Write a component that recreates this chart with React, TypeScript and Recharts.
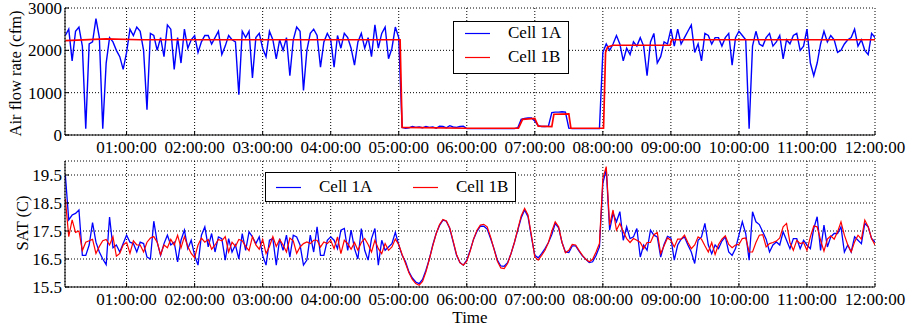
import { LineChart, Line, XAxis, YAxis, CartesianGrid, Legend } from "recharts";

const FONT = '"Liberation Serif", "Times New Roman", serif';

// sampling of the logged series: one reading every 3 minutes from 00:06
const START_HOUR = 0.1;
const STEP_HOURS = 0.05;
const X_DOMAIN: [number, number] = [0.095, 12];
const HOUR_TICKS = [1, 2, 3, 4, 5, 6, 7, 8, 9, 10, 11, 12];
const FLOW_TICKS = [0, 1000, 2000, 3000];
const SAT_TICKS = [15.5, 16.5, 17.5, 18.5, 19.5];

// Air flow rate (cfm), Cell 1A
const FLOW_1A = [
  2350, 2500, 1750, 2450, 2550, 2100, 150, 2150, 2200, 2750,
  2300, 150, 1700, 2300, 2200, 2000, 1850, 1550, 1950, 2500,
  2350, 2550, 2450, 2000, 600, 2400, 2350, 2000, 2300, 1850,
  2600, 2500, 1550, 2300, 1700, 2500, 2050, 2250, 2350, 1950,
  2200, 2350, 2350, 2150, 2300, 2450, 1900, 2100, 2350, 2250,
  2200, 950, 2450, 2300, 2450, 1350, 2300, 2400, 2050, 1850,
  2450, 2250, 1800, 2250, 2000, 2300, 1400, 2250, 2550, 2450,
  1050, 2000, 2400, 2500, 2350, 1600, 2200, 2400, 2250, 1600,
  2350, 2050, 2400, 2300, 2050, 1650, 2200, 2400, 2050, 2300,
  1850, 2600, 2050, 2400, 2550, 1800, 2050, 2550, 2300, 180,
  160, 170, 200, 180, 190, 170, 200, 180, 190, 160,
  210, 200, 170, 220, 190, 180, 200, 210, 150, 150,
  150, 150, 150, 150, 150, 150, 150, 150, 150, 150,
  150, 150, 150, 170, 370, 390, 400, 400, 330, 220,
  200, 200, 210, 530, 540, 540, 550, 540, 160, 150,
  150, 150, 150, 150, 150, 150, 150, 150, 1950, 2150,
  2000, 2150, 2350, 2150, 1750, 2050, 1900, 2200, 2100, 2300,
  2100, 1400, 2200, 2400, 1700, 1850, 2200, 2150, 2500, 2100,
  2500, 2150, 2300, 2450, 2600, 1950, 2150, 1750, 2400, 2350,
  2150, 2300, 2300, 2100, 2300, 2400, 1650, 2300, 2450, 2350,
  2250, 150, 2100, 2450, 2150, 2100, 2300, 2400, 2100, 2200,
  2350, 1800, 2250, 2150, 2350, 2400, 2000, 2100, 2500, 1700,
  1400, 1700, 2150, 2450, 2200, 2350, 2250, 1950, 2000, 2150,
  2250, 2300, 2500, 2100, 2250, 2000, 1900, 2400, 2300,
];

// Air flow rate (cfm), Cell 1B (setpoint-like, read at its breakpoints)
const FLOW_1B_HOURS = [0.1, 0.7, 1.2, 5.02, 5.05, 6.0, 6.76, 6.82, 7.0, 7.05, 7.25, 7.28, 7.5, 7.53, 8.01, 8.04, 8.07, 8.15, 8.99, 9.01, 12.0];
const FLOW_1B = [2230, 2270, 2250, 2250, 180, 160, 160, 370, 390, 210, 200, 490, 500, 160, 160, 1950, 2080, 2120, 2120, 2250, 2250];

// Supply air temperature (C), Cell 1A
const SAT_1A = [
  19.5, 17.9, 18.07, 18.13, 18.25, 16.63, 16.63, 17.0, 17.8, 17.1,
  16.75, 16.5, 16.3, 18.0, 16.9, 17.0, 16.75, 17.05, 17.35, 17.1,
  17.05, 16.75, 17.1, 17.05, 16.57, 16.5, 17.85, 17.1, 16.63, 17.05,
  17.35, 17.0, 17.1, 16.4, 17.17, 17.53, 16.87, 17.17, 16.63, 16.28,
  17.35, 17.65, 16.93, 17.41, 16.75, 17.29, 17.23, 16.46, 17.23, 16.75,
  17.0, 16.5, 17.41, 16.81, 17.47, 17.29, 17.05, 17.29, 16.63, 16.28,
  17.17, 17.23, 16.28, 17.23, 16.81, 17.35, 16.57, 17.35, 17.29, 17.0,
  16.28, 16.46, 17.35, 16.75, 17.65, 16.63, 16.63, 17.17, 17.29, 17.17,
  16.87, 17.53, 17.59, 16.81, 17.53, 16.87, 16.5, 17.59, 16.81, 16.46,
  17.23, 17.59, 16.28, 17.17, 16.81, 16.93, 17.05, 17.45, 17.0, 16.63,
  16.4, 16.04, 15.82, 15.68, 15.62, 15.77, 16.1, 16.5, 17.0, 17.41,
  17.7, 17.89, 17.85, 17.59, 17.11, 16.63, 16.37, 16.28, 16.46, 16.81,
  17.21, 17.49, 17.67, 17.67, 17.57, 17.23, 16.87, 16.46, 16.25, 16.24,
  16.37, 16.69, 17.09, 17.53, 17.97, 18.25, 18.01, 17.29, 16.63, 16.54,
  16.69, 16.87, 17.09, 17.37, 17.77, 17.61, 17.09, 16.75, 16.73, 16.97,
  16.97, 16.78, 16.61, 16.49, 16.37, 16.4, 16.63, 16.93, 19.2, 19.7,
  17.53, 18.13, 17.83, 18.19, 17.17, 17.65, 17.23, 17.29, 17.59, 16.57,
  17.0, 16.81, 17.53, 17.35, 17.29, 16.57, 17.02, 17.31, 17.25, 16.46,
  17.0, 17.21, 17.29, 17.0, 16.75, 16.34, 17.17, 17.29, 17.77, 17.0,
  16.69, 17.0, 16.87, 17.14, 17.29, 16.75, 16.63, 16.87, 17.35, 17.83,
  17.41, 16.46, 18.19, 17.83, 17.73, 17.47, 17.21, 16.75, 17.0, 17.11,
  17.0, 17.47, 17.17, 16.87, 17.23, 17.23, 16.87, 17.17, 17.0, 16.87,
  17.59, 18.01, 16.81, 17.71, 16.93, 17.29, 17.41, 17.41, 17.65, 16.75,
  17.0, 16.75, 17.29, 17.17, 17.05, 17.77, 17.65, 17.23, 17.11,
];

// Supply air temperature (C), Cell 1B
const SAT_1B = [
  18.65, 17.3, 17.9, 17.45, 17.5, 16.8, 17.1, 17.15, 17.2, 16.7,
  16.95, 17.15, 17.2, 17.0, 17.3, 16.6, 16.7, 17.0, 17.1, 16.7,
  17.15, 17.0, 17.0, 16.75, 17.1, 17.25, 17.3, 17.1, 16.65, 17.0,
  16.9, 17.2, 17.0, 17.35, 16.9, 17.3, 16.95, 16.7, 16.55, 17.0,
  17.25, 17.1, 17.2, 16.85, 17.0, 17.2, 17.15, 17.3, 16.75, 17.1,
  16.95, 17.2, 17.15, 16.95, 16.8, 17.3, 17.0, 16.85, 17.2, 16.7,
  16.95, 17.3, 16.95, 17.2, 17.0, 16.75, 17.25, 17.15, 16.7, 16.93,
  17.05, 17.11, 17.05, 17.17, 17.17, 16.93, 17.11, 17.05, 17.17, 16.87,
  17.29, 16.69, 17.17, 17.05, 16.85, 17.09, 16.81, 17.09, 17.23, 17.02,
  16.75, 17.17, 16.87, 16.69, 17.05, 16.81, 16.93, 17.21, 17.02, 16.66,
  16.34, 16.01, 15.77, 15.62, 15.56, 15.7, 16.04, 16.49, 16.97, 17.4,
  17.73, 17.91, 17.86, 17.61, 17.14, 16.66, 16.37, 16.28, 16.42, 16.78,
  17.21, 17.53, 17.71, 17.74, 17.65, 17.29, 16.85, 16.42, 16.18, 16.16,
  16.34, 16.69, 17.09, 17.57, 18.04, 18.31, 18.07, 17.35, 16.57, 16.46,
  16.63, 16.81, 17.09, 17.49, 17.83, 17.65, 17.09, 16.72, 16.81, 17.02,
  17.0, 16.81, 16.63, 16.49, 16.4, 16.49, 16.75, 17.05, 19.38, 19.8,
  17.71, 18.25, 17.53, 17.77, 17.47, 17.23, 17.09, 17.23, 17.17, 17.09,
  16.87, 17.09, 17.09, 17.37, 17.45, 16.69, 16.97, 17.25, 17.17, 16.93,
  17.21, 17.21, 17.35, 17.09, 16.87, 17.0, 17.29, 17.21, 16.97, 16.75,
  17.09, 16.66, 17.02, 17.21, 17.33, 17.02, 16.9, 17.0, 17.02, 17.23,
  17.25, 16.75, 16.75, 17.09, 17.35, 17.37, 16.93, 17.05, 17.09, 17.14,
  17.25, 17.65, 17.77, 17.09, 16.81, 17.17, 17.05, 17.09, 16.81, 17.29,
  17.68, 17.65, 17.17, 16.78, 17.21, 17.33, 17.21, 17.47, 17.83, 17.35,
  17.0, 16.75, 17.11, 17.35, 17.21, 17.89, 17.65, 17.23, 17.0,
];

const sampleHours = (n: number) => Array.from({ length: n }, (_, i) => START_HOUR + i * STEP_HOURS);
const toPoints = (hours: number[], values: number[]) => values.map((value, i) => ({ hour: hours[i], value }));

const hourLabel = (h: number) => `${String(h).padStart(2, "0")}:00:00`;

const BLUE = "#0000ff";
const RED = "#ff0000";
const SERIES_COLORS: Record<string, string> = { "Cell 1A": BLUE, "Cell 1B": RED };

function BottomTick({ x, y, payload }: any) {
  return (
    <g>
      <line x1={x} x2={x} y1={y} y2={y - 4} stroke="#000" />
      <text x={x} y={y + 18} textAnchor="middle" fontFamily={FONT} fontSize={17} fill="#000">
        {hourLabel(payload.value)}
      </text>
    </g>
  );
}

function TopTick({ x, y }: any) {
  return <line x1={x} x2={x} y1={y} y2={y + 4} stroke="#000" />;
}

function LeftTick({ x, y, payload }: any) {
  return (
    <g>
      <line x1={x} x2={x + 4} y1={y} y2={y} stroke="#000" />
      <text x={x - 3} y={y} dy={6} textAnchor="end" fontFamily={FONT} fontSize={17} fill="#000">
        {String(payload.value)}
      </text>
    </g>
  );
}

function RightTick({ x, y }: any) {
  return <line x1={x} x2={x - 4} y1={y} y2={y} stroke="#000" />;
}

function LegendKey({ color }: { color: string }) {
  return (
    <svg width={25} height={3} style={{ display: "block" }}>
      <line x1={0} x2={25} y1={1.5} y2={1.5} stroke={color} strokeWidth={1.2} />
    </svg>
  );
}

function FlowLegend({ payload }: any) {
  return (
    <div style={{ position: "relative", width: 116, height: 53, border: "1px solid #000", background: "#fff", boxSizing: "border-box" }}>
      {(payload || []).map((p: any, i: number) => (
        <div key={p.value} style={{ position: "absolute", left: 11, top: -1 + i * 24, height: 24, display: "flex", alignItems: "center" }}>
          <LegendKey color={SERIES_COLORS[p.value] || p.color} />
          <span style={{ marginLeft: 18, fontFamily: FONT, fontSize: 17, color: "#000" }}>{p.value}</span>
        </div>
      ))}
    </div>
  );
}

function SatLegend({ payload }: any) {
  return (
    <div style={{ position: "relative", width: 251, height: 30, border: "1px solid #000", background: "#fff", boxSizing: "border-box" }}>
      {(payload || []).map((p: any, i: number) => (
        <div key={p.value} style={{ position: "absolute", left: 10 + i * 137, top: 0, height: 28, display: "flex", alignItems: "center" }}>
          <LegendKey color={SERIES_COLORS[p.value] || p.color} />
          <span style={{ marginLeft: 18, fontFamily: FONT, fontSize: 17, color: "#000" }}>{p.value}</span>
        </div>
      ))}
    </div>
  );
}

interface Series {
  name: string;
  color: string;
  width: number;
  data: { hour: number; value: number }[];
}

interface PanelProps {
  top: number;
  height: number;
  topMargin: number;
  bottomMargin: number;
  xAxisHeight: number;
  yDomain: [number, number];
  yTicks: number[];
  yLabel: string;
  yLabelX: number;
  yLabelShift: number;
  series: Series[];
  legend: any;
  legendBox: { left: number; top: number; width: number; height: number };
  xLabel?: string;
}

function Panel(props: PanelProps) {
  const { top, height, topMargin, bottomMargin, xAxisHeight, yDomain, yTicks, yLabel, yLabelX, yLabelShift, series, legend, legendBox, xLabel } = props;
  return (
    <div style={{ position: "absolute", left: 0, top }}>
      <LineChart width={907} height={height} margin={{ top: topMargin, right: 32, bottom: bottomMargin, left: 0 }}>
        <CartesianGrid xAxisId="b" yAxisId="l" stroke="#000" strokeDasharray="1 2" />
        <XAxis
          xAxisId="b"
          dataKey="hour"
          type="number"
          domain={X_DOMAIN}
          allowDataOverflow
          ticks={HOUR_TICKS}
          interval={0}
          height={xAxisHeight}
          tickSize={0}
          tickMargin={0}
          tickLine={false}
          axisLine={{ stroke: "#000" }}
          tick={<BottomTick />}
          label={
            xLabel
              ? (p: any) => (
                  <text x={p.viewBox.x + p.viewBox.width / 2} y={p.viewBox.y + 36} textAnchor="middle" fontFamily={FONT} fontSize={17} fill="#000">
                    {xLabel}
                  </text>
                )
              : undefined
          }
        />
        <XAxis
          xAxisId="t"
          orientation="top"
          dataKey="hour"
          type="number"
          domain={X_DOMAIN}
          allowDataOverflow
          ticks={HOUR_TICKS}
          interval={0}
          height={0}
          tickSize={0}
          tickMargin={0}
          tickLine={false}
          axisLine={{ stroke: "#000" }}
          tick={<TopTick />}
        />
        <YAxis
          yAxisId="l"
          type="number"
          domain={yDomain}
          allowDataOverflow
          ticks={yTicks}
          interval={0}
          width={65}
          tickSize={0}
          tickMargin={0}
          tickLine={false}
          axisLine={{ stroke: "#000" }}
          tick={<LeftTick />}
          label={(p: any) => {
            const cx = p.viewBox.x + yLabelX;
            const cy = p.viewBox.y + p.viewBox.height / 2 + yLabelShift;
            return (
              <text x={cx} y={cy} transform={`rotate(-90, ${cx}, ${cy})`} textAnchor="middle" fontFamily={FONT} fontSize={16.5} fill="#000">
                {yLabel}
              </text>
            );
          }}
        />
        <YAxis
          yAxisId="r"
          orientation="right"
          type="number"
          domain={yDomain}
          allowDataOverflow
          ticks={yTicks}
          interval={0}
          width={0}
          tickSize={0}
          tickMargin={0}
          tickLine={false}
          axisLine={{ stroke: "#000" }}
          tick={<RightTick />}
        />
        {series.map((s) => (
          <Line
            key={s.name}
            xAxisId="b"
            yAxisId="l"
            data={s.data}
            dataKey="value"
            name={s.name}
            type="linear"
            stroke={s.color}
            strokeWidth={s.width}
            dot={false}
            activeDot={false}
            isAnimationActive={false}
          />
        ))}
        <Legend
          layout="horizontal"
          verticalAlign="middle"
          align="center"
          content={legend}
          wrapperStyle={{ left: legendBox.left, top: legendBox.top, width: legendBox.width, height: legendBox.height }}
        />
      </LineChart>
    </div>
  );
}

export default function App() {
  const flowSeries: Series[] = [
    { name: "Cell 1A", color: BLUE, width: 1.4, data: toPoints(sampleHours(FLOW_1A.length), FLOW_1A) },
    { name: "Cell 1B", color: RED, width: 1.7, data: toPoints(FLOW_1B_HOURS, FLOW_1B) },
  ];
  const satSeries: Series[] = [
    { name: "Cell 1A", color: BLUE, width: 1.3, data: toPoints(sampleHours(SAT_1A.length), SAT_1A) },
    { name: "Cell 1B", color: RED, width: 1.2, data: toPoints(sampleHours(SAT_1B.length), SAT_1B) },
  ];

  return (
    <div style={{ position: "absolute", left: 0, top: 0, width: 907, height: 329, background: "#fff", fontFamily: FONT }}>
      <Panel
        top={0}
        height={161}
        topMargin={8}
        bottomMargin={6}
        xAxisHeight={20}
        yDomain={[0, 3000]}
        yTicks={FLOW_TICKS}
        yLabel="Air flow rate (cfm)"
        yLabelX={21}
        yLabelShift={2}
        series={flowSeries}
        legend={<FlowLegend />}
        legendBox={{ left: 453, top: 21, width: 116, height: 53 }}
      />
      <Panel
        top={155}
        height={174}
        topMargin={6}
        bottomMargin={0}
        xAxisHeight={42}
        yDomain={[15.5, 20]}
        yTicks={SAT_TICKS}
        yLabel="SAT (C)"
        yLabelX={28}
        yLabelShift={-1}
        series={satSeries}
        legend={<SatLegend />}
        legendBox={{ left: 265, top: 17, width: 251, height: 30 }}
        xLabel="Time"
      />
    </div>
  );
}
